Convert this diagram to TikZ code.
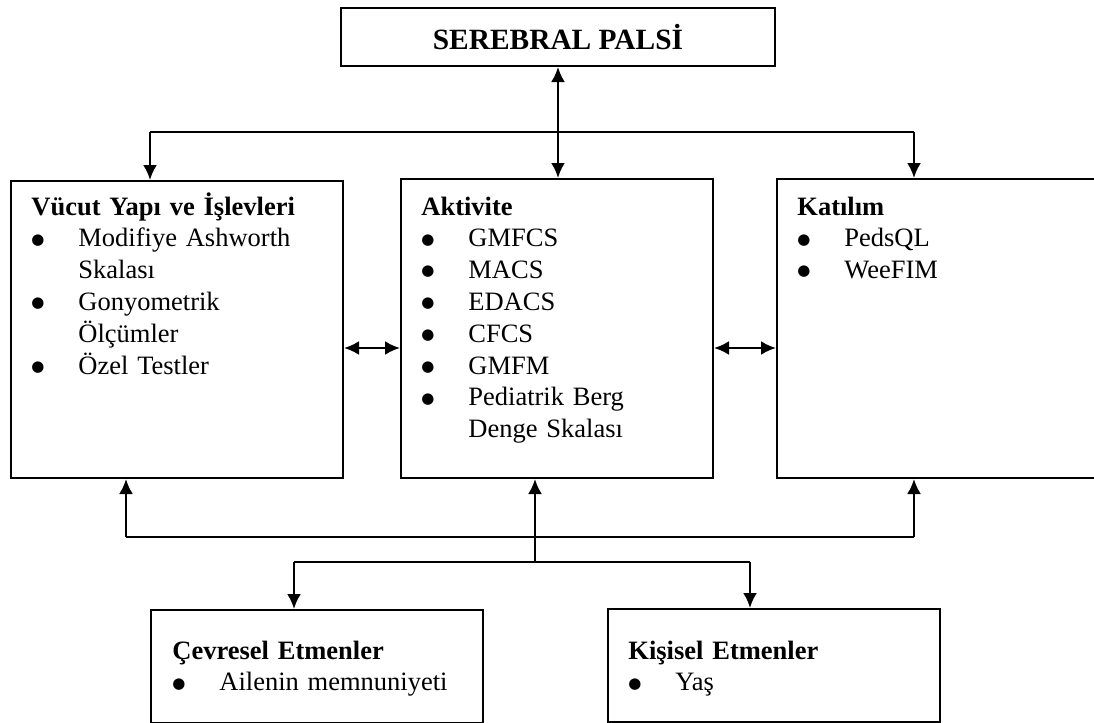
\documentclass[tikz,border=0pt]{standalone}
\usepackage{fontspec}
\setmainfont{Liberation Serif}
\newfontfamily\isaret{DejaVu Sans}
\usetikzlibrary{positioning}
\usetikzlibrary{arrows.meta}
\tikzset{
 kutu/.style={
 rectangle,
 draw=black, line width=1pt,
 anchor=north west,
 inner sep=0pt},
 yazi/.style={
 anchor=base west,
 inner sep=0pt,
 text width=160pt,
 align=left,
 font=\fontsize{13.25}{15.9}\selectfont},
 cizgi/.style={line width=0.9pt},
 ok/.style={line width=1.2pt, -{Latex[length=7.5pt,width=7pt]}},
 ciftok/.style={line width=1.2pt, {Latex[length=7.5pt,width=7pt]}-{Latex[length=7.5pt,width=7pt]}}
}
\newcommand{\madde}{\makebox[23.5pt][l]{\raisebox{1.4pt}{\isaret\fontsize{7.5}{7.5}\selectfont ●}}}
\newcommand{\girinti}{\hspace*{23.5pt}}

\begin{document}
\begin{tikzpicture}[x=0.5pt,y=-0.5pt]
 \useasboundingbox (0,0) rectangle (1094,723);

 \node[kutu, minimum width=217pt, minimum height=29pt,
 font=\bfseries\fontsize{14.7}{16}\selectfont] (serebral) at (340,7) {SEREBRAL PALS\.I};

 \node[kutu, minimum width=166pt, minimum height=148.5pt] (vucut) at (10,180) {};
 \node[kutu, minimum width=156pt, minimum height=149.5pt] (aktivite) at (400,178) {};
 \node[kutu, minimum width=162pt, minimum height=149.5pt] (katilim) at (776,178) {};
 \node[kutu, minimum width=166pt, minimum height=56.5pt] (cevresel) at (150,609) {};
 \node[kutu, minimum width=166pt, minimum height=56.5pt] (kisisel) at (607,608) {};

 \node[yazi] (vucutyazi) at (31,215) {\textbf{Vücut Yapı ve İşlevleri}\\
 \madde Modifiye Ashworth\\ \girinti Skalası\\
 \madde Gonyometrik\\ \girinti Ölçümler\\
 \madde Özel Testler};
 \node[yazi] (aktiviteyazi) at (421,215) {\textbf{Aktivite}\\
 \madde GMFCS\\ \madde MACS\\ \madde EDACS\\ \madde CFCS\\ \madde GMFM\\
 \madde Pediatrik Berg\\ \girinti Denge Skalası};
 \node[yazi] (katilimyazi) at (797,215) {\textbf{Katılım}\\
 \madde PedsQL\\ \madde WeeFIM};
 \node[yazi] (cevreselyazi) at (172,659) {\textbf{Çevresel Etmenler}\\
 \madde Ailenin memnuniyeti};
 \node[yazi] (kisiselyazi) at (628,659) {\textbf{Kişisel Etmenler}\\
 \madde Yaş};

 \draw[ciftok] (serebral.south) -- (serebral.south |- aktivite.north);

 \coordinate (ustsol) at (150,132);
 \coordinate (ustsag) at (914,132);
 \draw[cizgi] (ustsol) -- (ustsag);
 \draw[ok] (ustsol) -- (ustsol |- vucut.north);
 \draw[ok] (ustsag) -- (ustsag |- katilim.north);

 \coordinate (yanok) at (0,348);
 \draw[ciftok] (vucut.east |- yanok) -- (aktivite.west |- yanok);
 \draw[ciftok] (aktivite.east |- yanok) -- (katilim.west |- yanok);

 \coordinate (altsol) at (126,537);
 \coordinate (altorta) at (535,537);
 \coordinate (altsag) at (914,537);
 \draw[cizgi] (altsol) -- (altsag);
 \draw[ok] (altsol) -- (altsol |- vucut.south);
 \draw[ok] (altorta) -- (altorta |- aktivite.south);
 \draw[ok] (altsag) -- (altsag |- katilim.south);

 \coordinate (dalsol) at (294,562);
 \coordinate (dalsag) at (750,562);
 \draw[cizgi] (altorta) -- (altorta |- dalsol);
 \draw[cizgi] (dalsol) -- (dalsag);
 \draw[ok] (dalsol) -- (dalsol |- cevresel.north);
 \draw[ok] (dalsag) -- (dalsag |- kisisel.north);
\end{tikzpicture}
\end{document}
